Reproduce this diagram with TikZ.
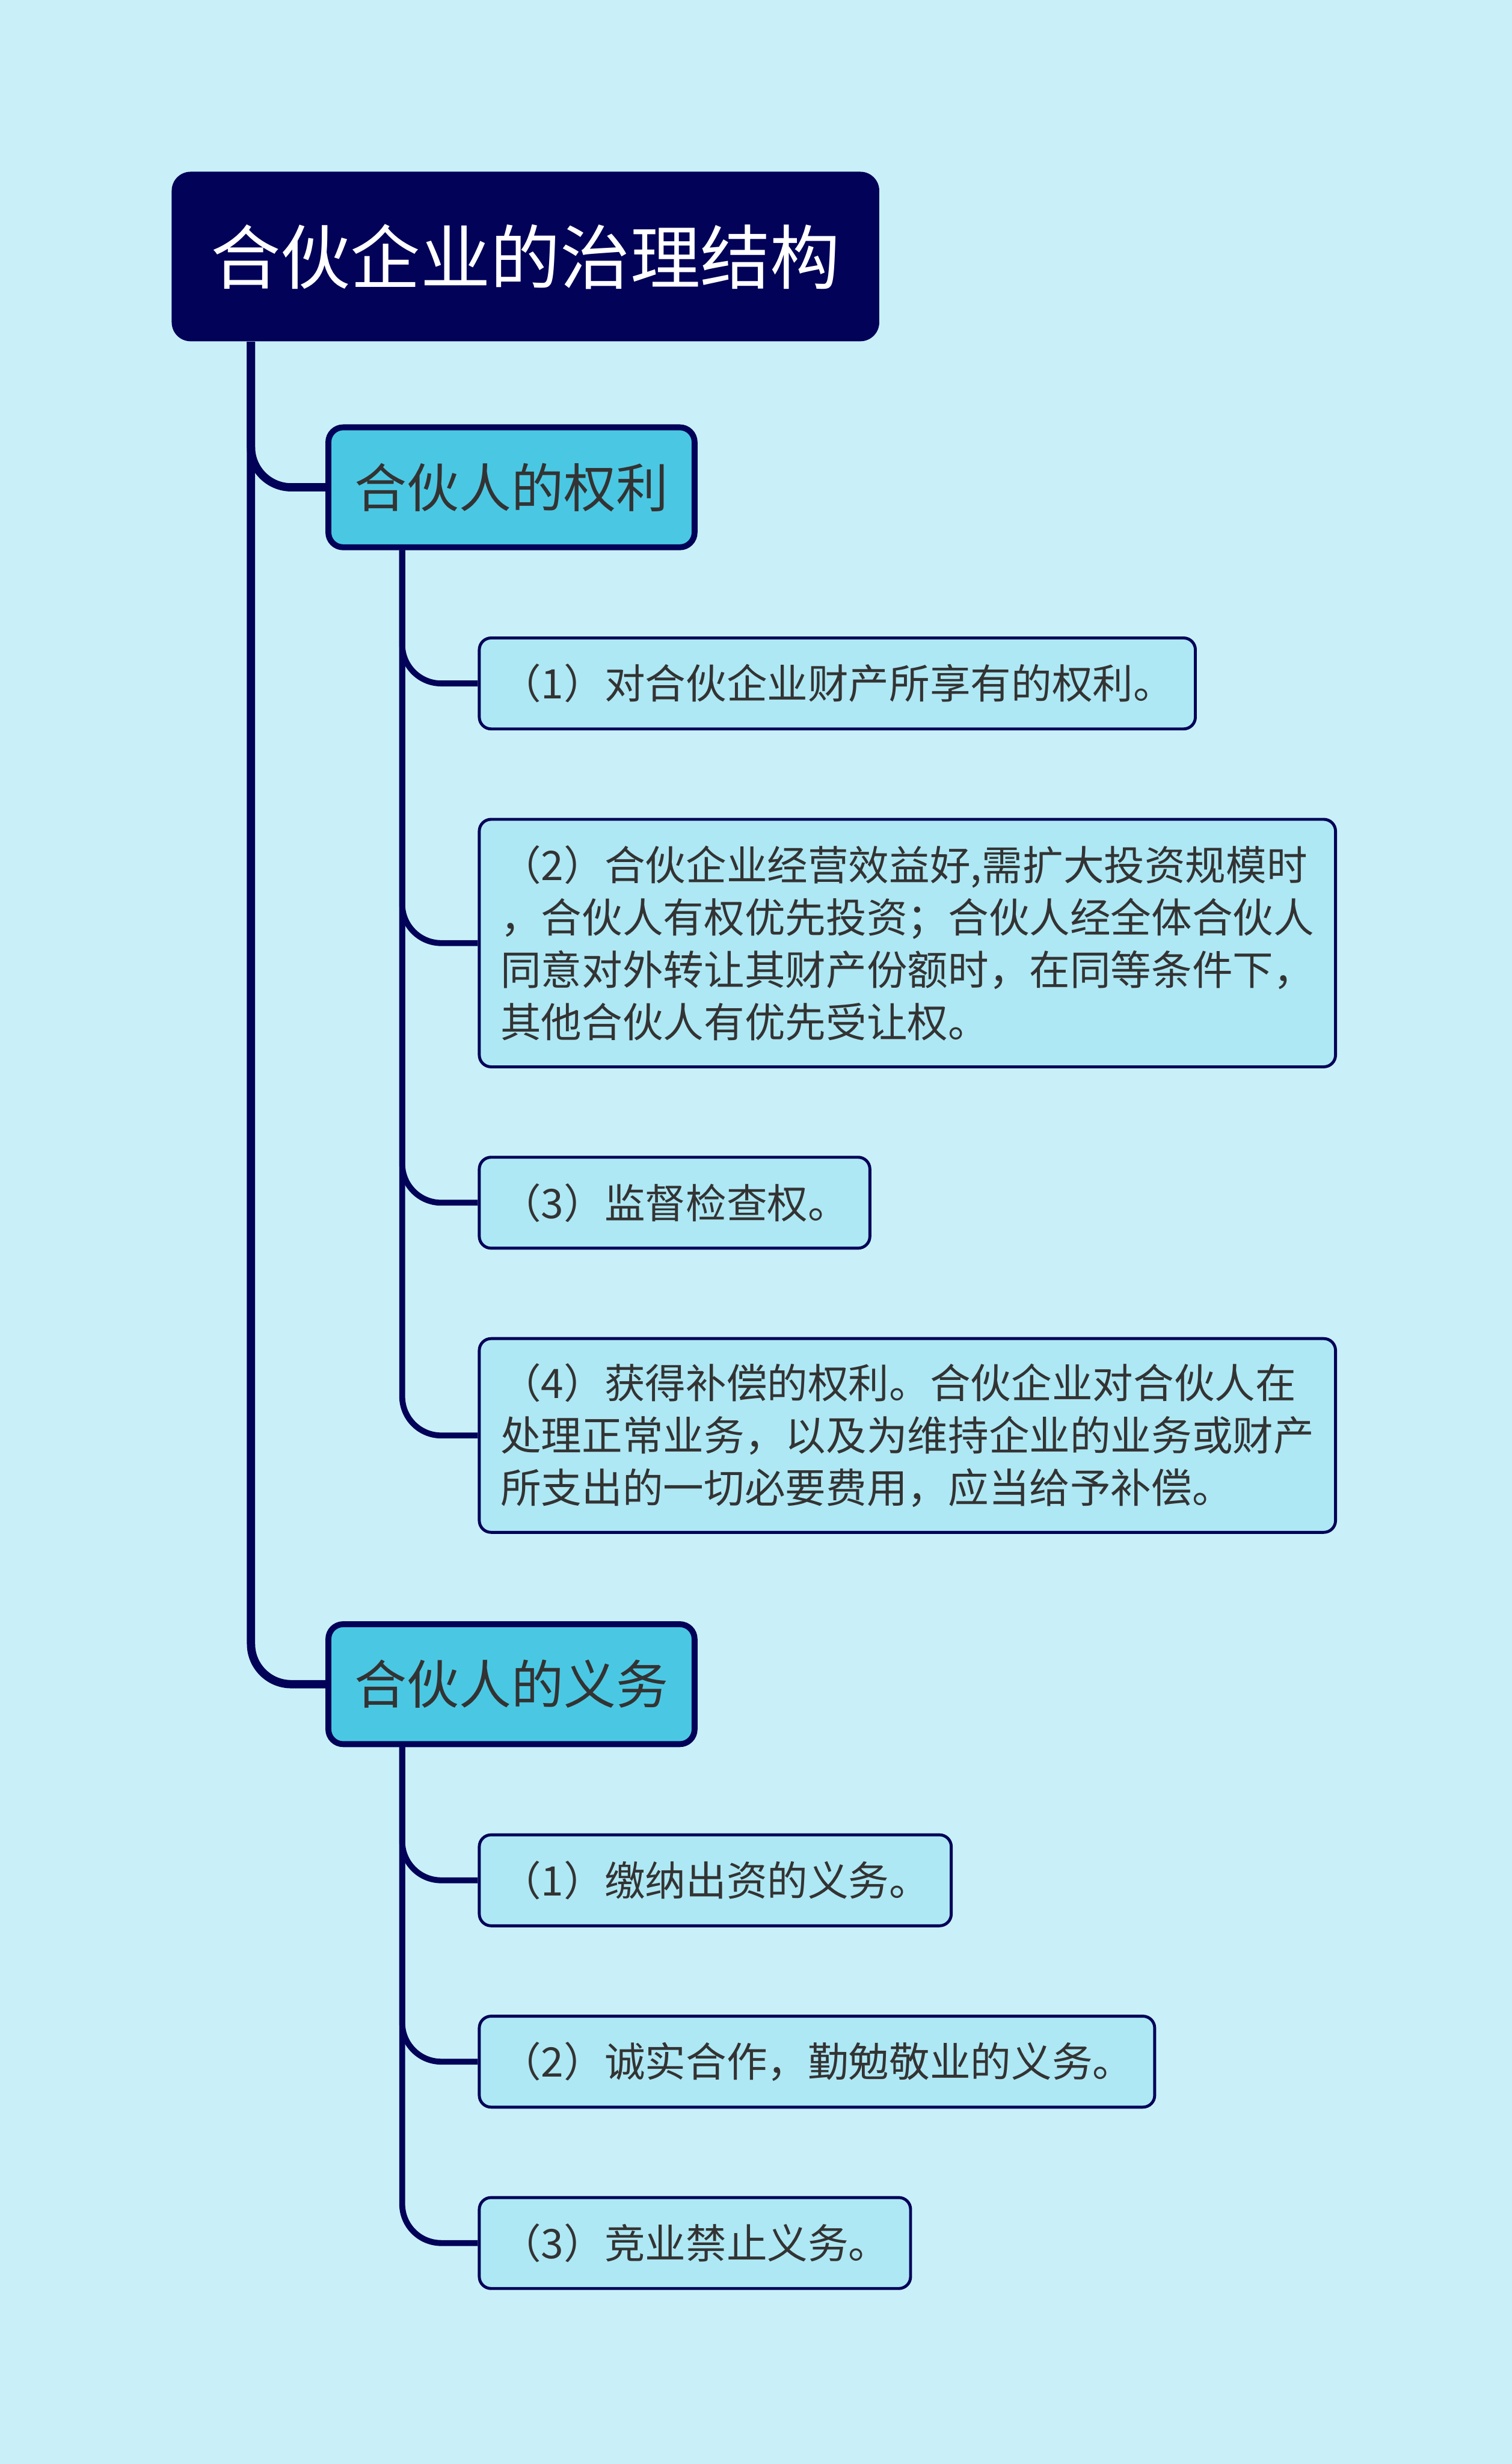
\documentclass[tikz,border=0pt]{standalone}
\usepackage{fontspec}
\setmainfont{Noto Sans CJK SC}
\usepackage{tikz}
\usetikzlibrary{positioning, calc}

\definecolor{navy}{RGB}{2,2,88}
\definecolor{bgcyan}{RGB}{201,240,248}
\definecolor{catfill}{RGB}{74,200,227}
\definecolor{leaffill}{RGB}{174,232,244}
\definecolor{textgray}{RGB}{51,51,51}

\begin{document}
\begin{tikzpicture}[
    node distance=1.48cm,
    rootbox/.style={
        rectangle, rounded corners=0.32cm, fill=navy, text=white,
        minimum width=11.98cm, minimum height=2.87cm, inner sep=0pt,
        font=\fontsize{33.7pt}{40pt}\selectfont
    },
    category/.style={
        rectangle, rounded corners=0.25cm, draw=navy, line width=0.1cm,
        fill=catfill, text=textgray, minimum width=6.2cm,
        minimum height=2.03cm, inner sep=0pt,
        font=\fontsize{25.2pt}{30pt}\selectfont
    },
    leaf/.style={
        rectangle, rounded corners=0.2cm, draw=navy, line width=0.05cm,
        fill=leaffill, text=textgray, minimum height=1.54cm,
        inner xsep=0.36cm, inner ysep=0pt, align=left,
        font=\fontsize{19.6pt}{25.2pt}\selectfont
    },
    branch/.style={
        draw=navy, line width=0.14cm, rounded corners=0.68cm
    },
    twig/.style={
        draw=navy, line width=0.1cm, rounded corners=0.66cm
    }
]

% ── Canvas ──
\fill[bgcyan] (0,0) rectangle (25.6,-41.71);

% ── Root ──
\node[rootbox, anchor=north west] (root) at (2.90,-2.90) {合伙企业的治理结构};

% ── Rights ──
\node[category, below=1.40cm of root.south west, anchor=north west, xshift=2.61cm] (rights) {合伙人的权利};
\node[leaf, below=1.46cm of rights.south west, anchor=north west, xshift=2.58cm] (rt1) {（1）对合伙企业财产所享有的权利。};
\node[leaf, below=of rt1.south west, anchor=north west, minimum height=4.19cm] (rt2) {%
    （2）合伙企业经营效益好,需扩大投资规模时\\
    ，合伙人有权优先投资；合伙人经全体合伙人\\
    同意对外转让其财产份额时，在同等条件下，\\
    其他合伙人有优先受让权。};
\node[leaf, below=of rt2.south west, anchor=north west] (rt3) {（3）监督检查权。};
\node[leaf, below=of rt3.south west, anchor=north west, minimum height=3.28cm] (rt4) {%
    （4）获得补偿的权利。合伙企业对合伙人在\\
    处理正常业务，以及为维持企业的业务或财产\\
    所支出的一切必要费用，应当给予补偿。};

% ── Duties ──
\node[category, below=of rt4.south west, anchor=north west, xshift=-2.58cm] (duties) {合伙人的义务};
\node[leaf, below=1.46cm of duties.south west, anchor=north west, xshift=2.58cm] (dt1) {（1）缴纳出资的义务。};
\node[leaf, below=of dt1.south west, anchor=north west] (dt2) {（2）诚实合作，勤勉敬业的义务。};
\node[leaf, below=of dt2.south west, anchor=north west] (dt3) {（3）竞业禁止义务。};

% ── Connectors ──
\coordinate (trunk) at ($(root.south west)+(1.35,0)$);
\draw[branch] (trunk) |- (rights.west);
\draw[branch] (trunk) |- (duties.west);

\coordinate (rightsstem) at ($(rights.south west)+(1.30,0)$);
\foreach \child in {rt1,rt2,rt3,rt4}
    \draw[twig] (rightsstem) |- (\child.west);

\coordinate (dutiesstem) at ($(duties.south west)+(1.30,0)$);
\foreach \child in {dt1,dt2,dt3}
    \draw[twig] (dutiesstem) |- (\child.west);

\end{tikzpicture}
\end{document}
